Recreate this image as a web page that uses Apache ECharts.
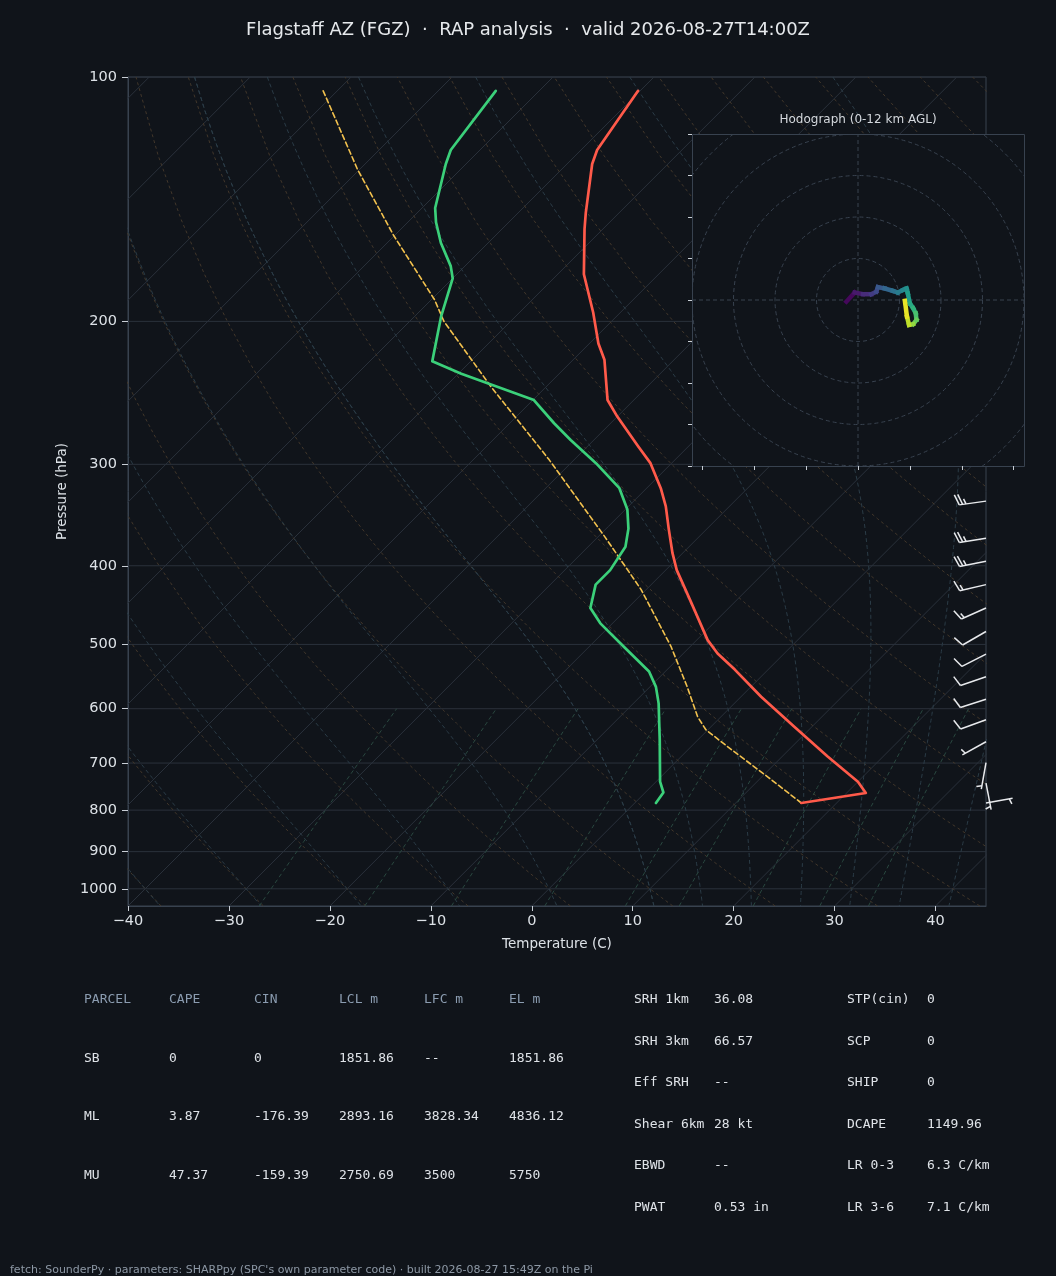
<!DOCTYPE html>
<html>
<head>
<meta charset="utf-8">
<script src="https://cdn.jsdelivr.net/npm/echarts@6/dist/echarts.min.js"></script>
<style>
html,body{margin:0;padding:0;background:#10141a;}
#chart{width:1056px;height:1276px;}
</style>
</head>
<body>
<div id="chart"></div>
<script>
// sounding: pressure (hPa) and temperature (C)
var T_PRES=[104,123,128,147,154,175,195,213,223,250,262,285,299,321,338,361,386,405,441,494,513,537,580,631,687,738,762,784];
var T_VALS=[-70.2,-68.4,-67.5,-63.3,-61.8,-57.4,-52.7,-49.1,-46.9,-42.6,-40.0,-35.0,-32.1,-28.6,-26.3,-23.7,-21.0,-18.9,-14.6,-8.9,-6.6,-3.3,2.0,8.2,14.5,20.0,21.9,16.5];
var TD_PRES=[104,123,128,145,151,160,171,177,197,224,232,250,267,280,299,321,341,360,379,405,422,451,471,503,540,564,591,655,738,761,784];
var TD_VALS=[-84.3,-82.9,-82.0,-78.7,-77.2,-74.7,-71.4,-70.0,-67.4,-63.8,-59.7,-49.9,-45.6,-42.3,-37.5,-32.7,-29.8,-27.8,-26.3,-25.5,-25.5,-23.7,-21.2,-16.6,-11.6,-9.4,-7.5,-3.8,0.4,1.8,2.1];
var PARCEL_PRES=[104,130,157,188,200,241,296,368,428,503,564,614,637,668,730,784];
var PARCEL_VALS=[-101.4,-90.2,-80.0,-69.7,-66.6,-55.4,-42.5,-29.4,-20.5,-11.9,-6.3,-2.3,-0.2,3.6,10.8,16.5];

// wind barbs
var W_PRES=[333,370,395,422,451,482,514,548,584,619,659,699,741,784];
var W_DIR=[262,261,259,257,246,240,243,251,252,250,241,190,169,80];
var W_SPD=[25,25,25,15,15,10,10,10,10,10,5,5,5,5];

// hodograph (u, v, height km AGL)
var HODO_U=[-2.8,-0.8,1.2,3.2,4.4,4.8,6.4,8.4,9.6,10.8,11.7,12.0,12.5,13.3,13.9,14.1,13.3,12.3,11.8,11.3];
var HODO_V=[-0.4,1.8,1.4,1.4,2.0,3.1,2.8,2.2,1.8,2.4,2.8,1.6,-0.8,-2.0,-3.2,-4.8,-5.8,-6.0,-4.0,-0.2];
var HODO_H=[0,0.5,1.2,1.8,2.4,3.0,3.6,4.2,4.8,5.3,5.8,6.3,6.9,7.5,8.1,8.8,9.6,10.5,11.2,12.0];
var HODO_RINGS=[10,20,30,40,50];

// axes / reference lines
var ISOBARS=[100,200,300,400,500,600,700,800,900,1000];
var T_TICKS=[-40,-30,-20,-10,0,10,20,30,40];
var HODO_XTICKS=[-37.5,-25,-12.5,0,12.5,25,37.5];
var HODO_YTICKS=[-40,-30,-20,-10,0,10,20,30,40];
var DRY_T0=[-40,-30,-20,-10,0,10,20,30,40,50,60,70,80,90,100,110,120,130,140,150,160,170,180,190,200];
var MOIST_T0=[-50,-40,-30,-20,-10,0,10,10,15,20,25,30,35,40];
var MIX_W=[0.0004,0.001,0.002,0.004,0.007,0.01,0.016,0.024,0.032];

// stats table
var PARCEL_HEAD=['PARCEL','CAPE','CIN','LCL m','LFC m','EL m'];
var PARCEL_ROWS=[
  ['SB','0','0','1851.86','--','1851.86'],
  ['ML','3.87','-176.39','2893.16','3828.34','4836.12'],
  ['MU','47.37','-159.39','2750.69','3500','5750']
];
var IDX_A=[['SRH 1km','36.08'],['SRH 3km','66.57'],['Eff SRH','--'],['Shear 6km','28 kt'],['EBWD','--'],['PWAT','0.53 in']];
var IDX_B=[['STP(cin)','0'],['SCP','0'],['SHIP','0'],['DCAPE','1149.96'],['LR 0-3','6.3 C/km'],['LR 3-6','7.1 C/km']];

var PTOP=100, PBOT=1050, SKEW=80.4;
var BG='#10141a', FONT='DejaVu Sans', MONO='DejaVu Sans Mono';

function lp(p){return Math.log10(p);}
function skx(t,p){return t+SKEW*(lp(PBOT)-lp(p));}
function minus(v){return v<0?'\u2212'+Math.abs(v):''+v;}

var series=[];
function bgLine(pts,color,dash){
  series.push({type:'line',data:pts,symbol:'none',silent:true,z:1,animation:false,
    lineStyle:{color:color,width:1,type:dash}});
}

// isobars
ISOBARS.forEach(function(p){bgLine([[-40,lp(p)],[45,lp(p)]],'#2a313b','solid');});
// isotherms
for(var t=-130;t<=40;t+=10){bgLine([[skx(t,PBOT),lp(PBOT)],[skx(t,PTOP),lp(PTOP)]],'#2a313b','solid');}
// dry adiabats
DRY_T0.forEach(function(t0){
  var pts=[];
  for(var p=PBOT;p>=PTOP;p-=25){
    var tt=(t0+273.15)*Math.pow(p/1000,0.28571)-273.15;
    pts.push([skx(tt,p),lp(p)]);
  }
  bgLine(pts,'#42372b',[3,3]);
});
// moist adiabats
function dTdp(p,T){
  var tc=T-273.15, es=6.112*Math.exp(17.67*tc/(tc+243.5));
  var rs=0.622*es/(p-es);
  return (287.04*T+2.501e6*rs)/(1005.7+2.501e6*2.501e6*rs*0.622/(287.04*T*T))/p;
}
function integrate(T,p0,p1,dp){
  var out=[[p0,T]],p=p0;
  while((dp<0&&p>p1)||(dp>0&&p<p1)){
    var k1=dTdp(p,T),k2=dTdp(p+dp/2,T+dp/2*k1),k3=dTdp(p+dp/2,T+dp/2*k2),k4=dTdp(p+dp,T+dp*k3);
    T+=dp/6*(k1+2*k2+2*k3+k4);p+=dp;out.push([p,T]);
  }
  return out;
}
MOIST_T0.forEach(function(t0){
  var up=integrate(t0+273.15,1000,PTOP,-10).reverse();
  var dn=integrate(t0+273.15,1000,PBOT,10).slice(1);
  var pts=up.concat(dn).map(function(a){return [skx(a[1]-273.15,a[0]),lp(a[0])];});
  bgLine(pts,'#2b3c47',[4,3]);
});
// mixing ratio lines
MIX_W.forEach(function(w){
  var pts=[];
  for(var p=PBOT;p>=600;p-=25){
    var e=p*w/(0.622+w), l=Math.log(e/6.112);
    var td=243.5*l/(17.67-l);
    pts.push([skx(td,p),lp(p)]);
  }
  bgLine(pts,'#2a4840',[4,3]);
});

function profile(pres,vals,color,width,dash){
  series.push({type:'line',symbol:'none',silent:true,z:4,animation:false,
    data:pres.map(function(p,i){return [skx(vals[i],p),lp(p)];}),
    lineStyle:{color:color,width:width,type:dash,cap:'round',join:'round'}});
}
profile(PARCEL_PRES,PARCEL_VALS,'#f2c14e',1.6,[5,3]);
profile(T_PRES,T_VALS,'#ff5a4a',2.7,'solid');
profile(TD_PRES,TD_VALS,'#3bd07a',2.7,'solid');

// wind barbs on the right edge
series.push({type:'custom',z:4,silent:true,animation:false,clip:false,
  data:W_PRES.map(function(p,i){return [45,lp(p),W_DIR[i],W_SPD[i]];}),
  encode:{x:0,y:1},
  renderItem:function(params,api){
    var o=api.coord([api.value(0),api.value(1)]);
    var d=api.value(2)*Math.PI/180, spd=api.value(3);
    var sx=Math.sin(d), sy=-Math.cos(d), nx=-sy, ny=sx;
    var L=27, tip=[o[0]+L*sx,o[1]+L*sy];
    var st={stroke:'#e8eaed',lineWidth:1.5};
    var kids=[{type:'line',shape:{x1:o[0],y1:o[1],x2:tip[0],y2:tip[1]},style:st}];
    var full=Math.floor(spd/10), half=(spd%10)>=5?1:0, gap=3.4, pos=(full===0&&half)?gap:0;
    function feather(k){
      var bx=tip[0]-pos*sx, by=tip[1]-pos*sy;
      kids.push({type:'line',shape:{x1:bx,y1:by,x2:bx+k*(3.5*sx+10.6*nx),y2:by+k*(3.5*sy+10.6*ny)},style:st});
      pos+=gap;
    }
    for(var i=0;i<full;i++)feather(1);
    if(half)feather(0.5);
    return {type:'group',children:kids};
  }
});

// hodograph
var ringColor='#38424f';
series.push({type:'custom',xAxisIndex:1,yAxisIndex:1,z:11,silent:true,animation:false,clip:true,
  data:HODO_RINGS.map(function(r){return [0,0,r];}),encode:{x:0,y:1},
  renderItem:function(params,api){
    var c=api.coord([0,0]), r=api.size([api.value(2),0])[0];
    return {type:'circle',shape:{cx:c[0],cy:c[1],r:r},style:{fill:'none',stroke:ringColor,lineWidth:1,lineDash:[4,3]}};
  }
});
series.push({type:'line',xAxisIndex:1,yAxisIndex:1,z:11,symbol:'none',silent:true,animation:false,
  data:[[-40,0],[40,0]],lineStyle:{color:ringColor,width:1,type:[4,3]}});
series.push({type:'line',xAxisIndex:1,yAxisIndex:1,z:11,symbol:'none',silent:true,animation:false,
  data:[[0,-40],[0,40]],lineStyle:{color:ringColor,width:1,type:[4,3]}});
var hodoSeg=[];
for(var i=0;i<HODO_U.length-1;i++){
  hodoSeg.push([HODO_U[i],HODO_V[i],(HODO_H[i]+HODO_H[i+1])/2,HODO_U[i+1],HODO_V[i+1]]);
}
var hodoIndex=series.length;
series.push({type:'custom',xAxisIndex:1,yAxisIndex:1,z:12,silent:true,animation:false,
  data:hodoSeg,encode:{x:[0,3],y:[1,4]},
  renderItem:function(params,api){
    var a=api.coord([api.value(0),api.value(1)]), b=api.coord([api.value(3),api.value(4)]);
    return {type:'line',shape:{x1:a[0],y1:a[1],x2:b[0],y2:b[1]},
      style:{stroke:api.visual('color'),lineWidth:4.5,lineCap:'square'}};
  }
});

// text blocks
var graphics=[
  {type:'rect',z:10,shape:{x:692.5,y:134.5,width:332,height:332},style:{fill:BG,stroke:'#38424f',lineWidth:1}},
  {type:'text',z:12,x:858,y:120,style:{text:'Hodograph (0-12 km AGL)',fill:'#d4d8dd',font:'12px "'+FONT+'"',align:'center',verticalAlign:'middle'}},
  {type:'text',x:10,y:1270,style:{text:"fetch: SounderPy \u00b7 parameters: SHARPpy (SPC's own parameter code) \u00b7 built 2026-08-27 15:49Z on the Pi",fill:'#8d98a5',font:'11px "'+FONT+'"',verticalAlign:'middle'}}
];
var colL=[84,169,254,339,424,509], rowL=[1000,1058.5,1117,1176];
PARCEL_HEAD.forEach(function(h,j){
  graphics.push({type:'text',x:colL[j],y:rowL[0],style:{text:h,fill:'#8b9cb0',font:'13px "'+MONO+'"',verticalAlign:'middle'}});
});
PARCEL_ROWS.forEach(function(r,i){
  r.forEach(function(v,j){
    graphics.push({type:'text',x:colL[j],y:rowL[i+1],style:{text:v,fill:'#dfe3e8',font:'13px "'+MONO+'"',verticalAlign:'middle'}});
  });
});
var rowR=[1000,1041.5,1083,1124.5,1166,1207.5];
function idxCol(list,x1,x2){
  list.forEach(function(r,i){
    graphics.push({type:'text',x:x1,y:rowR[i],style:{text:r[0],fill:'#dfe3e8',font:'13px "'+MONO+'"',verticalAlign:'middle'}});
    graphics.push({type:'text',x:x2,y:rowR[i],style:{text:r[1],fill:'#dfe3e8',font:'13px "'+MONO+'"',verticalAlign:'middle'}});
  });
}
idxCol(IDX_A,634,714);
idxCol(IDX_B,847,927);

var axisCol='#38424f', tickCol='#c9cfd6', labCol='#dde2e7';
var option={
  backgroundColor:BG,
  animation:false,
  title:{text:'Flagstaff AZ (FGZ)  \u00b7  RAP analysis  \u00b7  valid 2026-08-27T14:00Z',left:'center',top:16,
    textStyle:{color:'#e6e9ec',fontSize:18,fontWeight:'normal',fontFamily:FONT}},
  grid:[
    {left:128,top:77,width:858,height:829,show:true,borderColor:axisCol,borderWidth:1,backgroundColor:'transparent'},
    {left:692,top:134,width:332,height:332}
  ],
  xAxis:[
    {type:'value',gridIndex:0,min:-40,max:45,interval:10,
      name:'Temperature (C)',nameLocation:'middle',nameGap:31,
      nameTextStyle:{color:labCol,fontSize:13.5,fontFamily:FONT},
      axisLine:{onZero:false,lineStyle:{color:axisCol}},
      axisTick:{customValues:T_TICKS,length:5,lineStyle:{color:tickCol}},
      axisLabel:{customValues:T_TICKS,color:labCol,fontSize:14.5,fontFamily:FONT,margin:8,formatter:minus},
      splitLine:{show:false}},
    {type:'value',gridIndex:1,min:-40,max:40,z:11,
      axisLine:{show:false,onZero:false},
      axisTick:{customValues:HODO_XTICKS,length:4,lineStyle:{color:tickCol}},
      axisLabel:{show:false},splitLine:{show:false}}
  ],
  yAxis:[
    {type:'value',gridIndex:0,min:lp(PTOP),max:lp(PBOT),inverse:true,
      name:'Pressure (hPa)',nameLocation:'middle',nameGap:58,nameRotate:90,
      nameTextStyle:{color:labCol,fontSize:13.5,fontFamily:FONT},
      axisLine:{onZero:false,lineStyle:{color:axisCol}},
      axisTick:{customValues:ISOBARS.map(lp),length:6,lineStyle:{color:tickCol}},
      axisLabel:{customValues:ISOBARS.map(lp),color:labCol,fontSize:14.5,fontFamily:FONT,margin:11,
        formatter:function(v){return Math.round(Math.pow(10,v));}},
      splitLine:{show:false}},
    {type:'value',gridIndex:1,min:-40,max:40,z:11,
      axisLine:{show:false,onZero:false},
      axisTick:{customValues:HODO_YTICKS,length:4,lineStyle:{color:tickCol}},
      axisLabel:{show:false},splitLine:{show:false}}
  ],
  visualMap:{type:'continuous',show:false,seriesIndex:hodoIndex,dimension:2,min:0,max:12,
    inRange:{color:['#440154','#482878','#3e4989','#31688e','#26828e','#1f9e89','#35b779','#6ece58','#b5de2b','#fde725']}},
  graphic:graphics,
  series:series
};
var chart=echarts.init(document.getElementById('chart'));
chart.setOption(option);
</script>
</body>
</html>
